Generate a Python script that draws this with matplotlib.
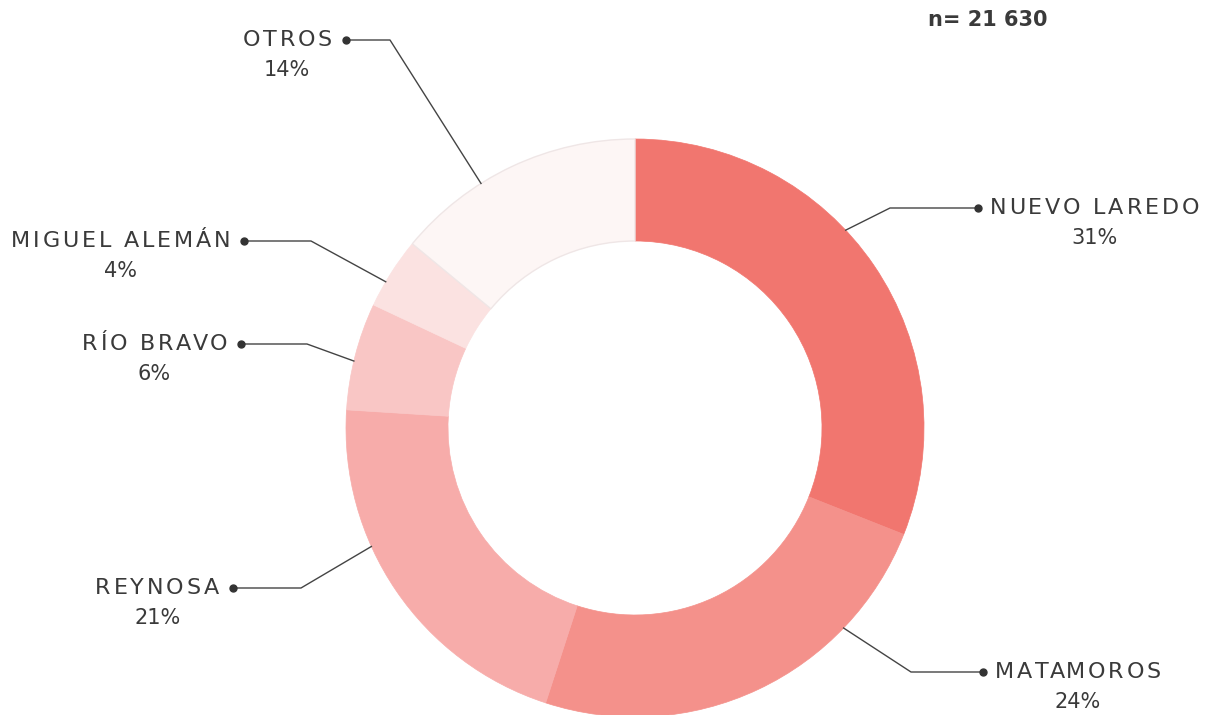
import matplotlib.pyplot as plt
from matplotlib.font_manager import FontProperties
import numpy as np

# Data
cities = ['NUEVO LAREDO', 'MATAMOROS', 'REYNOSA', 'RÍO BRAVO', 'MIGUEL ALEMÁN', 'OTROS']
shares = [31, 24, 21, 6, 4, 14]
colors = ['#F1766F', '#F4918B', '#F7ACAA', '#F9C6C5', '#FBE2E1', '#FDF6F5']
total = '21 630'

# Layout (pixel space, y from top): elbow x, dot x, line y, angle tweak
elbow_x = [890, 911, 301, 307, 311, 390]
dot_x = [978, 983, 233, 241, 244, 346]
line_y = [208, 672, 588, 344, 241, 40]
ang_shift = [9, 21, -10, 1, 2, 7]

plt.rcParams['font.family'] = ['DejaVu Sans']
text_color = '#3a3a3a'
H = 715
label_size = 16
tracking = 2.8  # px between letters

fig = plt.figure(figsize=(12.07, 7.15), dpi=100)
ax = fig.add_axes([0, 0, 1, 1])

cx, cy, R, W = 635, H - 428, 289, 102
wedges, _ = ax.pie(shares, colors=colors, startangle=90, counterclock=False,
                   center=(cx, cy), radius=R,
                   wedgeprops=dict(width=W, linewidth=0.5))
for w, c in zip(wedges, colors):
    w.set_edgecolor(c)
wedges[-1].set_edgecolor('#efe6e6')
wedges[-1].set_linewidth(1)
ax.set_xlim(0, 1207)
ax.set_ylim(0, H)
ax.set_aspect('equal')
ax.axis('off')

renderer = fig.canvas.get_renderer()
prop = FontProperties(family='DejaVu Sans', size=label_size)


def text_w(s):
    if not s:
        return 0.0
    w, h, d = renderer.get_text_width_height_descent(s, prop, ismath=False)
    return w


def spaced_text(x, y, s, align):
    # draw letters one by one to get letter spacing
    full = text_w(s) + tracking * (len(s) - 1)
    start = x if align == 'left' else x - full
    for k, ch in enumerate(s):
        ax.text(start + text_w(s[:k]) + tracking * k, y, ch, ha='left', va='center',
                fontproperties=prop, color=text_color)
    return start + full / 2


for i, w in enumerate(wedges):
    theta = np.deg2rad((w.theta1 + w.theta2) / 2 + ang_shift[i])
    x0 = cx + R * np.cos(theta)
    y0 = cy + R * np.sin(theta)
    ly = H - line_y[i]
    ax.plot([x0, elbow_x[i], dot_x[i]], [y0, ly, ly], color='#444444', lw=1, zorder=3)
    ax.plot(dot_x[i], ly, 'o', color='#333333', ms=5, zorder=4)
    right = dot_x[i] > cx
    tx = dot_x[i] + 12 if right else dot_x[i] - 14
    mid = spaced_text(tx, ly, cities[i], 'left' if right else 'right')
    ax.text(mid, ly - 30, f'{shares[i]}%', ha='center', va='center',
            fontsize=15, color=text_color)

ax.text(928, H - 20, f'n= {total}', ha='left', va='center', fontsize=15,
        fontweight='bold', color=text_color)

fig.savefig('out.png', dpi=100)
